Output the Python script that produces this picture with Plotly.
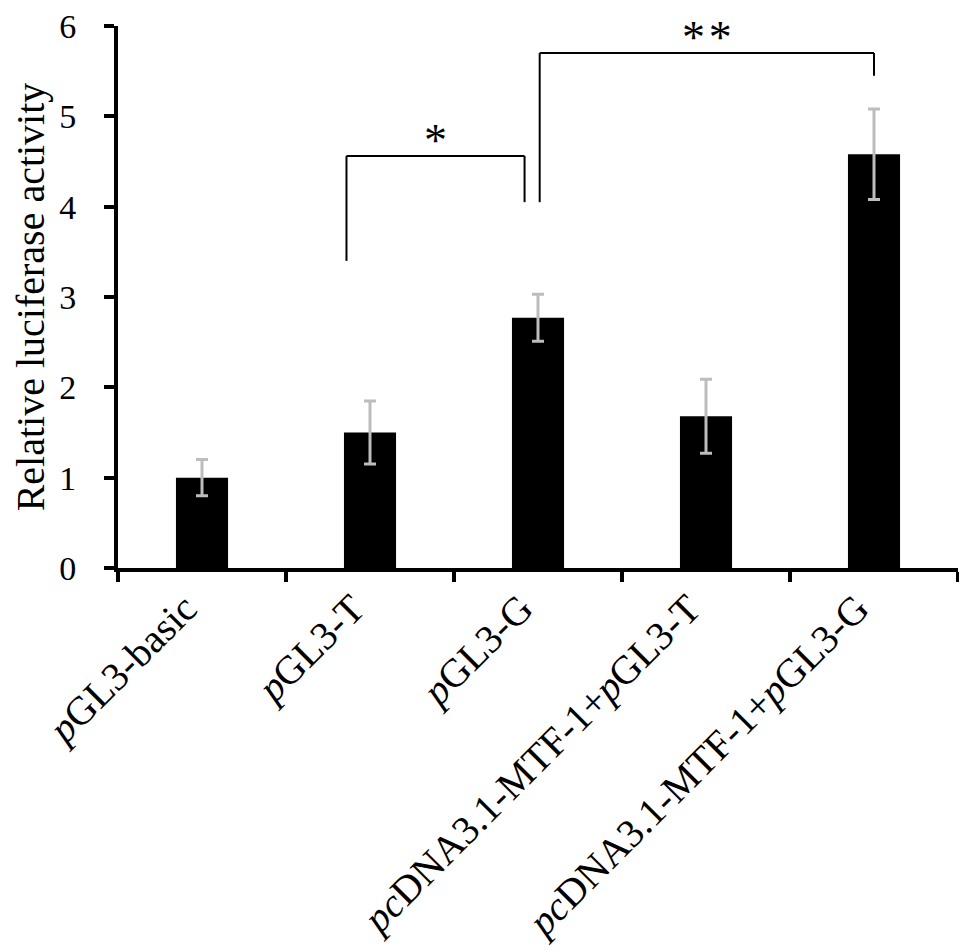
import plotly.graph_objects as go

# data
categories = ["pGL3-basic", "pGL3-T", "pGL3-G",
              "pcDNA3.1-MTF-1+pGL3-T", "pcDNA3.1-MTF-1+pGL3-G"]
tick_labels = ["<i>p</i>GL3-basic", "<i>p</i>GL3-T", "<i>p</i>GL3-G",
               "<i>pc</i>DNA3.1-MTF-1+<i>p</i>GL3-T",
               "<i>pc</i>DNA3.1-MTF-1+<i>p</i>GL3-G"]
activity = [1.0, 1.5, 2.77, 1.68, 4.58]
sd = [0.2, 0.35, 0.26, 0.41, 0.5]

# significance brackets: (x_left, x_right, y_top, y_left_end, y_right_end, label)
brackets = [
    (0.86, 1.92, 4.56, 3.4, 4.05, "*"),
    (2.01, 4.0, 5.7, 4.05, 5.45, "*\u200a*"),
]

FONT = "Liberation Serif, Times New Roman, serif"

fig = go.Figure()
fig.add_trace(go.Bar(
    x=categories, y=activity,
    width=0.31,
    marker=dict(color="black", line=dict(width=0)),
    error_y=dict(type="data", array=sd, visible=True,
                 color="#bdbdbd", thickness=3, width=6),
))

shapes = []
annotations = []
for x0, x1, ytop, yl, yr, lab in brackets:
    line = dict(color="black", width=2)
    shapes.append(dict(type="line", xref="x", yref="y", x0=x0, x1=x0, y0=yl, y1=ytop, line=line))
    shapes.append(dict(type="line", xref="x", yref="y", x0=x0, x1=x1, y0=ytop, y1=ytop, line=line))
    shapes.append(dict(type="line", xref="x", yref="y", x0=x1, x1=x1, y0=ytop, y1=yr, line=line))
    annotations.append(dict(x=(x0 + x1) / 2, y=ytop, xref="x", yref="y", text=lab,
                            showarrow=False, yanchor="bottom", yshift=-12,
                            font=dict(size=46, color="black", family=FONT)))

# page body has an 8px default margin, margins below account for it
fig.update_layout(
    width=967, height=951,
    margin=dict(l=110, r=17, t=18, b=391),
    plot_bgcolor="white", paper_bgcolor="white",
    showlegend=False,
    font=dict(family=FONT, color="black"),
    shapes=shapes, annotations=annotations,
)
fig.update_xaxes(
    type="category", tickvals=categories, ticktext=tick_labels,
    tickangle=-45, tickfont=dict(size=40, family=FONT),
    ticklabelshift=-17, ticklabelstandoff=-3,
    showline=True, linecolor="black", linewidth=4,
    ticks="outside", tickson="boundaries", ticklen=10, tickwidth=4, tickcolor="black",
    showgrid=False, zeroline=False, automargin=False,
)
fig.update_yaxes(
    range=[0, 6], tickvals=[0, 1, 2, 3, 4, 5, 6],
    tickfont=dict(size=34, family=FONT), ticklabeloverflow="allow",
    showline=True, linecolor="black", linewidth=4,
    ticks="outside", ticklen=10, tickwidth=4, tickcolor="black",
    ticklabelstandoff=21,
    showgrid=False, zeroline=False, automargin=False,
    title=dict(text="Relative luciferase activity", font=dict(size=40, family=FONT), standoff=6),
)

fig.write_html("out.html")
